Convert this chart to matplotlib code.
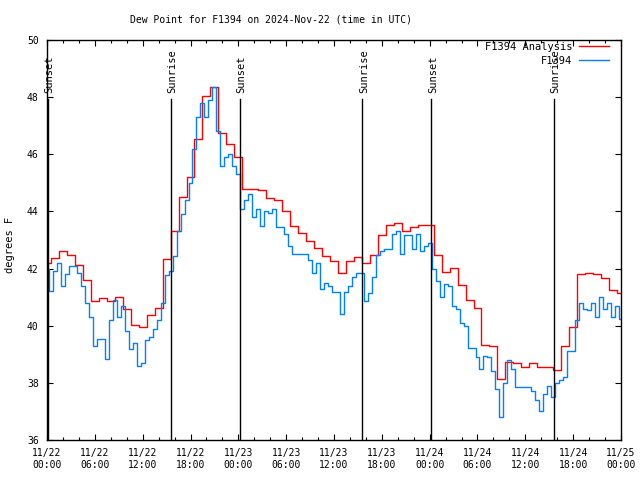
import matplotlib
matplotlib.use("Agg")
import matplotlib.pyplot as plt
import numpy as np

# hours since 2024-11-22 00:00 UTC
red_step = 1.0
analysis_values = [
    42.20, 42.38, 42.62, 42.46, 42.11, 41.61, 40.88, 40.97, 40.88, 41.00,
    40.60, 40.04, 39.97, 40.39, 40.63, 42.32, 43.33, 44.52, 45.21, 46.53,
    48.04, 48.37, 46.74, 46.37, 45.90, 44.79, 44.79, 44.75, 44.48, 44.40,
    44.03, 43.50, 43.23, 42.98, 42.73, 42.43, 42.28, 41.83, 42.28, 42.41,
    42.21, 42.47, 43.16, 43.54, 43.60, 43.31, 43.44, 43.53, 43.54, 42.46,
    41.89, 42.03, 41.43, 40.91, 40.63, 39.34, 39.29, 38.15, 38.73, 38.69,
    38.54, 38.68, 38.57, 38.54, 38.44, 39.29, 39.97, 41.82, 41.85, 41.82,
    41.68, 41.25, 41.16,
]

blue_step = 0.5
station_values = [
    42.0, 41.2, 41.9, 42.2, 41.4, 41.8, 42.1, 42.1, 41.85, 41.4,
    40.8, 40.3, 39.3, 39.55, 39.55, 38.85, 40.2, 40.9, 40.3, 40.7,
    39.8, 39.2, 39.4, 38.6, 38.7, 39.5, 39.6, 39.9, 40.2, 40.8,
    41.76, 41.9, 42.43, 43.3, 43.9, 44.4, 45.0, 46.2, 47.3, 47.8,
    47.3, 47.9, 48.36, 46.8, 45.6, 45.9, 46.0, 45.6, 45.3, 44.1,
    44.4, 44.6, 43.8, 44.1, 43.5, 44.0, 43.95, 44.1, 43.46, 43.46,
    43.2, 42.8, 42.5, 42.5, 42.5, 42.5, 42.3, 41.86, 42.2, 41.27,
    41.5, 41.4, 41.18, 41.18, 40.4, 41.18, 41.4, 41.7, 41.83, 41.83,
    40.87, 41.15, 41.7, 42.47, 42.6, 42.7, 42.7, 43.2, 43.3, 42.5,
    43.16, 43.16, 42.7, 43.2, 42.6, 42.8, 42.9, 42.0, 41.55, 41.0,
    41.47, 41.4, 40.7, 40.6, 40.1, 40.0, 39.23, 39.23, 38.9, 38.5,
    38.95, 38.9, 38.4, 37.8, 36.8, 38.0, 38.8, 38.5, 37.84, 37.84,
    37.84, 37.84, 37.7, 37.4, 37.0, 37.6, 37.9, 37.5, 38.0, 38.1,
    38.2, 39.12, 39.12, 40.2, 40.8, 40.6, 40.55, 40.8, 40.3, 41.0,
    40.6, 40.8, 40.3, 40.7, 40.22,
]

event_hours = [0.1, 15.55, 24.15, 39.55, 48.2, 63.6]
event_names = ["Sunset", "Sunrise", "Sunset", "Sunrise", "Sunset", "Sunrise"]

tick_labels = ["11/22\n00:00", "11/22\n06:00", "11/22\n12:00", "11/22\n18:00",
               "11/23\n00:00", "11/23\n06:00", "11/23\n12:00", "11/23\n18:00",
               "11/24\n00:00", "11/24\n06:00", "11/24\n12:00", "11/24\n18:00",
               "11/25\n00:00"]

plt.rcParams['font.family'] = ['DejaVu Sans Mono']
plt.rcParams['font.size'] = 7

fig = plt.figure(figsize=(6.4, 4.8), dpi=100)
ax = fig.add_axes([47 / 640, 40 / 480, 574 / 640, 400 / 480])

red_t = np.arange(len(analysis_values)) * red_step
blue_t = np.arange(len(station_values)) * blue_step

ax.plot(red_t, analysis_values, color='#ff0000', lw=1.0, drawstyle='steps-mid',
        label='F1394 Analysis')
ax.plot(blue_t, station_values, color='#0080ff', lw=1.0, drawstyle='steps-mid',
        label='F1394')

# sunrise / sunset markers
for h, name in zip(event_hours, event_names):
    ax.plot([h, h], [36, 47.95], color='black', lw=1.0, zorder=3)
    ax.text(h + 0.2, 48.15, name, rotation=90, ha='center', va='bottom',
            fontsize=7.5)

ax.set_xlim(0, 72)
ax.set_ylim(36, 50)
ax.set_xticks(np.arange(0, 73, 6))
ax.set_xticklabels(tick_labels)
ax.set_xticks(np.arange(0, 73, 2), minor=True)
ax.set_yticks(np.arange(36, 51, 2))
ax.tick_params(which='both', direction='in', top=True, right=True)
ax.tick_params(which='major', length=4, width=0.8, pad=6)
ax.tick_params(which='minor', length=2.5, width=0.8)
for s in ax.spines.values():
    s.set_linewidth(1.0)

ax.legend(loc='upper right', frameon=False, markerfirst=False,
          bbox_to_anchor=((609 - 47) / 574, 0.995), borderpad=0,
          borderaxespad=0, handlelength=2.9, handletextpad=0.6,
          labelspacing=0.35, fontsize=7.5)

fig.text(271.5 / 640, 1 - 20 / 480, 'Dew Point for F1394 on 2024-Nov-22 (time in UTC)',
         ha='center', va='center', fontsize=7)
fig.text(10 / 640, 1 - 245 / 480, 'degrees F', rotation=90, ha='center',
         va='center', fontsize=7.5)

fig.savefig('out.png', dpi=100)
